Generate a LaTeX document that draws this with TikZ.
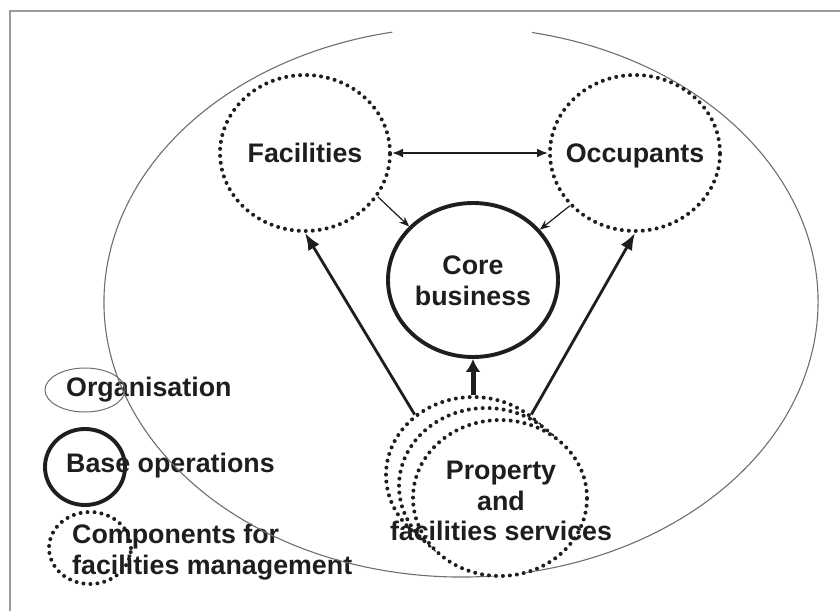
\documentclass[tikz,border=0pt]{standalone}
\usepackage{fontspec}
\setmainfont{Liberation Sans}
\usetikzlibrary{shapes.geometric,arrows.meta}
\definecolor{ink}{HTML}{1E1E1E}
\definecolor{framegray}{HTML}{9A9A9A}
\definecolor{orggray}{HTML}{6E6E6E}
\begin{document}
\begin{tikzpicture}[x=1pt,y=1pt,
  lbl/.style={inner sep=0pt, text=ink, align=center,
    font=\fontsize{26.8}{30.5}\selectfont\bfseries},
  dotring/.style={ellipse, draw=ink, inner sep=0pt, line width=4pt,
    dash pattern=on 0pt off 7pt, line cap=round},
  basering/.style={ellipse, draw=ink, inner sep=0pt, line width=3.9pt},
  orgring/.style={ellipse, draw=orggray, inner sep=0pt, line width=1pt},
  thinarrow/.style={draw=ink, line width=1.2pt, -{Stealth[length=10pt,width=8pt]}},
  twoway/.style={draw=ink, line width=1.9pt, {Latex[length=11pt,width=9pt]}-{Latex[length=11pt,width=9pt]}},
  bigarrow/.style={draw=ink, line width=2.8pt, -{Latex[length=17pt,width=13pt]}},
  fatarrow/.style={draw=ink, line width=5pt, -{Latex[length=13pt,width=15pt]}}]
\useasboundingbox (0,0) rectangle (840,-610);

% outer frame (cut by the page on the right and at the bottom)
\draw[framegray, line width=1.6pt] (10,-11) rectangle (870,-640);

% legend texts (the legend rings are drawn over them)
\node[lbl, anchor=west] (kOrgT) at (66,-390) {Organisation};
\node[lbl, anchor=west] (kBaseT) at (66,-466) {Base operations};
\node[lbl, anchor=west, align=left] (kCompT) at (72,-552)
  {Components for\\facilities management};

% the organisation, open at the top
\draw[orggray, line width=1.1pt] (461,-302) ++(78.5:357 and 275)
  arc[start angle=78.5, end angle=-258.9, x radius=357, y radius=275];

% components and base operations
\node[dotring, minimum width=170, minimum height=156] (fac) at (305,-153) {};
\node[dotring, minimum width=170, minimum height=156] (occ) at (635,-153) {};
\node[basering, minimum width=170, minimum height=154] (core) at (473,-280) {};
\node[dotring, fill=white, minimum width=174, minimum height=156] (psA) at (473,-475) {};
\node[dotring, fill=white, minimum width=174, minimum height=156] (psB) at (486,-486) {};
\node[dotring, fill=white, minimum width=174, minimum height=156] (psC) at (500,-498) {};

\node[lbl, anchor=base] (facT) at (305,-162.6) {Facilities};
\node[lbl, anchor=base] (occT) at (635,-162.6) {Occupants};
\node[lbl] (coreT) at (473,-281) {Core\\business};
\node[lbl] (psT) at (501,-501) {Property\\and\\facilities services};

% relations
\draw[twoway] (fac) -- (occ);
\draw[thinarrow] (fac.-31) -- (core.140);
\draw[thinarrow] (occ.-141) -- (core.37);
\draw[bigarrow] (psA.134) -- (fac.-90);
\draw[bigarrow] (psA.46) -- (occ.-90);
\draw[fatarrow] (psA.90) -- (core.-90);

% legend rings
\node[orgring, minimum width=80, minimum height=44] (kOrg) at (85,-390) {};
\node[basering, minimum width=80, minimum height=76] (kBase) at (85,-467) {};
\node[dotring, minimum width=82, minimum height=72] (kComp) at (90,-548) {};
\end{tikzpicture}
\end{document}
